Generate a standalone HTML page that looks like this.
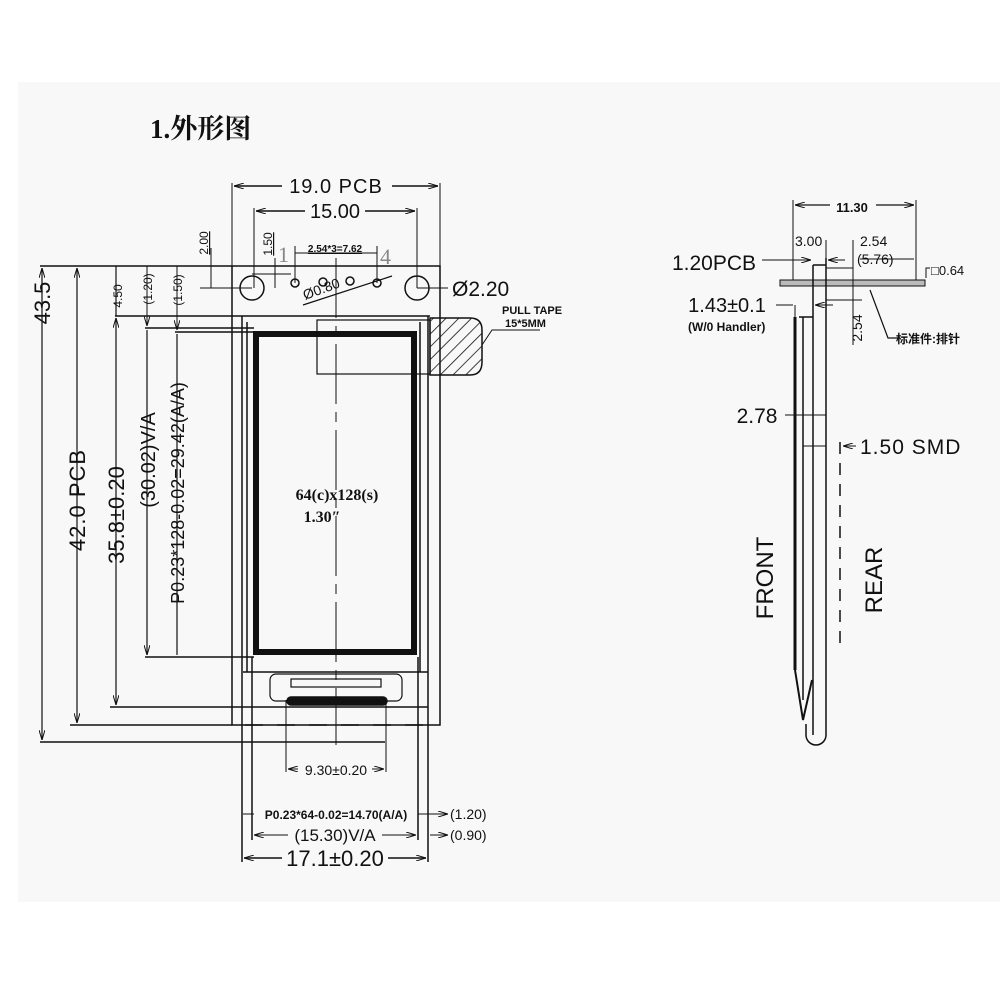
<!DOCTYPE html>
<html><head><meta charset="utf-8"><style>
html,body{margin:0;padding:0;background:#fff}
svg{display:block}
text{font-family:"Liberation Sans","Noto Sans CJK SC",sans-serif;fill:#111}
.s{font-family:"Liberation Serif","Noto Serif CJK SC",serif;font-weight:bold}
</style></head><body>
<svg width="1000" height="1000" viewBox="0 0 1000 1000" xmlns="http://www.w3.org/2000/svg">
<defs>
<marker id="a" viewBox="0 0 10 6" refX="10" refY="3" markerWidth="10" markerHeight="6" orient="auto-start-reverse" markerUnits="userSpaceOnUse"><path d="M0,0 L10,3 L0,6" fill="none" stroke="#111" stroke-width="1"/></marker>
<pattern id="h" width="9" height="9" patternUnits="userSpaceOnUse" patternTransform="rotate(45)"><line x1="0" y1="0" x2="0" y2="9" stroke="#111" stroke-width="1.6"/></pattern>
</defs>
<rect x="18" y="82" width="982" height="820" fill="#f8f8f8"/>
<text x="150" y="138" class="s" font-size="27">1.外形图</text>
<g stroke="#111" stroke-width="1.5" fill="none">
<rect x="232" y="266" width="208" height="459"/>
<line x1="40" y1="266" x2="232" y2="266"/>
<line x1="70" y1="725" x2="232" y2="725"/>
<line x1="40" y1="742" x2="385" y2="742"/>
<line x1="110" y1="707" x2="428" y2="707"/>
<line x1="145" y1="657" x2="254" y2="657"/>
<line x1="115" y1="316" x2="430" y2="316"/>
<line x1="145" y1="328" x2="254" y2="328"/>
<line x1="175" y1="332" x2="254" y2="332"/>
<line x1="242" y1="316" x2="242" y2="862"/>
<line x1="247" y1="322" x2="247" y2="672"/>
<line x1="428" y1="316" x2="428" y2="862"/>
<line x1="420" y1="322" x2="420" y2="672"/>
<line x1="243" y1="672" x2="428" y2="672"/>
<line x1="252" y1="657" x2="252" y2="840"/>
<line x1="418" y1="657" x2="418" y2="840"/>
<rect x="256" y="334" width="158" height="318" stroke-width="6"/>
<circle cx="252" cy="288" r="12"/><circle cx="417" cy="288" r="12"/>
<circle cx="295" cy="283" r="4"/><circle cx="323" cy="282" r="4"/><circle cx="350" cy="281" r="4"/><circle cx="377" cy="283" r="4"/>
<line x1="200" y1="288" x2="252" y2="288" stroke-width="1"/>
<line x1="252" y1="274" x2="291" y2="274" stroke-width="1"/>
<line x1="417" y1="288" x2="448" y2="288" stroke-width="1"/>
<line x1="303" y1="305" x2="392" y2="276" stroke-width="1.2"/>
<line x1="232" y1="183" x2="232" y2="266" stroke-width="1"/><line x1="440" y1="183" x2="440" y2="266" stroke-width="1"/>
<line x1="234" y1="186" x2="282" y2="186" marker-start="url(#a)"/><line x1="392" y1="186" x2="438" y2="186" marker-end="url(#a)"/>
<line x1="254" y1="208" x2="254" y2="288" stroke-width="1"/><line x1="417" y1="208" x2="417" y2="288" stroke-width="1"/>
<line x1="256" y1="211" x2="305" y2="211" marker-start="url(#a)"/><line x1="365" y1="211" x2="415" y2="211" marker-end="url(#a)"/>
<line x1="295" y1="246" x2="295" y2="283" stroke-width="1"/><line x1="377" y1="246" x2="377" y2="283" stroke-width="1"/>
<line x1="295" y1="253" x2="377" y2="253" stroke-width="1"/>
<line x1="211" y1="248" x2="211" y2="288" stroke-width="1"/>
<line x1="275" y1="258" x2="275" y2="288" stroke-width="1"/>
<line x1="336" y1="258" x2="336" y2="745" stroke-width="1" stroke-dasharray="60 8 10 8"/>
<rect x="317" y="320" width="113" height="54" stroke-width="1.2"/>
<path d="M430,318 H470 Q482,318 482,330 V362 Q482,375 470,375 H430 Z" fill="url(#h)"/>
<polyline points="482,345 492,330 540,330" stroke-width="1"/>
<rect x="270" y="674" width="132" height="27" rx="6" stroke-width="1.2"/>
<rect x="291" y="679" width="90" height="8" stroke-width="1.2"/>
<rect x="287" y="697" width="100" height="8" rx="4" fill="#111"/>
<line x1="286" y1="700" x2="286" y2="772" stroke-width="1"/><line x1="386" y1="700" x2="386" y2="772" stroke-width="1"/>
<line x1="245" y1="725" x2="428" y2="725" stroke-dasharray="18 14" stroke-width="1.5"/>
<line x1="288" y1="769" x2="298" y2="769" marker-start="url(#a)" stroke-width="1"/><line x1="372" y1="769" x2="384" y2="769" marker-end="url(#a)" stroke-width="1"/>
<line x1="243" y1="814" x2="254" y2="814" stroke-width="1"/><line x1="418" y1="814" x2="448" y2="814" stroke-width="1" marker-end="url(#a)"/>
<line x1="254" y1="835" x2="288" y2="835" marker-start="url(#a)" stroke-width="1"/><line x1="382" y1="835" x2="416" y2="835" marker-end="url(#a)" stroke-width="1"/>
<line x1="430" y1="835" x2="448" y2="835" stroke-width="1" marker-end="url(#a)"/>
<line x1="244" y1="858" x2="282" y2="858" marker-start="url(#a)"/><line x1="388" y1="858" x2="426" y2="858" marker-end="url(#a)"/>
<line x1="42" y1="268" x2="42" y2="740" marker-start="url(#a)" marker-end="url(#a)" stroke-width="1.2"/>
<line x1="77" y1="268" x2="77" y2="723" marker-start="url(#a)" marker-end="url(#a)" stroke-width="1.2"/>
<line x1="116" y1="318" x2="116" y2="705" marker-start="url(#a)" marker-end="url(#a)" stroke-width="1.2"/>
<line x1="116" y1="266" x2="116" y2="316" stroke-width="1.2"/>
<line x1="147" y1="330" x2="147" y2="655" marker-end="url(#a)" stroke-width="1.2"/>
<line x1="147" y1="266" x2="147" y2="326" marker-end="url(#a)" stroke-width="1"/>
<line x1="177" y1="266" x2="177" y2="330" marker-end="url(#a)" stroke-width="1"/>
<line x1="177" y1="334" x2="177" y2="655" stroke-width="1.2"/>
<line x1="793" y1="200" x2="793" y2="283" stroke-width="1"/><line x1="916" y1="200" x2="916" y2="283" stroke-width="1"/>
<line x1="795" y1="205" x2="830" y2="205" marker-start="url(#a)" stroke-width="1.2"/><line x1="876" y1="205" x2="914" y2="205" marker-end="url(#a)" stroke-width="1.2"/>
<rect x="780" y="280" width="145" height="6" fill="#bbb" stroke-width="1"/>
<line x1="813" y1="265" x2="813" y2="735"/><line x1="826" y1="258" x2="826" y2="735"/>
<line x1="813" y1="265" x2="826" y2="265"/>
<rect x="826" y="268" width="27" height="32" stroke-width="1"/>
<line x1="853" y1="240" x2="853" y2="300" stroke-width="1"/>
<line x1="826" y1="240" x2="826" y2="258" stroke-width="1"/>
<line x1="762" y1="260" x2="811" y2="260" marker-end="url(#a)" stroke-width="1"/>
<line x1="828" y1="260" x2="845" y2="260" marker-start="url(#a)" stroke-width="1"/>
<line x1="860" y1="259" x2="914" y2="259" stroke-width="1"/>
<line x1="853" y1="300" x2="853" y2="345" stroke-width="1"/>
<line x1="835" y1="300" x2="862" y2="300" stroke-width="1"/>
<polyline points="870,290 888,338 898,338" stroke-width="1.2"/>
<polyline points="926,278 926,268 930,268" stroke-width="1"/>
<line x1="795" y1="317" x2="795" y2="670" stroke-width="3"/>
<line x1="803" y1="317" x2="803" y2="700"/><line x1="799" y1="317" x2="813" y2="317"/>
<line x1="795" y1="305" x2="795" y2="317" stroke-width="1"/>
<line x1="776" y1="305" x2="793" y2="305" stroke-width="1"/>
<line x1="815" y1="305" x2="833" y2="305" stroke-width="1" marker-start="url(#a)"/>
<line x1="785" y1="415" x2="826" y2="415" stroke-width="1"/>
<line x1="803" y1="446" x2="826" y2="446" stroke-width="1"/>
<line x1="840" y1="442" x2="840" y2="650" stroke-dasharray="12 9"/>
<line x1="843" y1="446" x2="856" y2="446" marker-start="url(#a)" stroke-width="1"/>
<path d="M795,670 L803,720 L812,680" stroke-width="2"/>
<path d="M806,724 L806,735 A10,10 0 0 0 826,735"/>
</g>
<g font-size="20">
<text x="336" y="193" text-anchor="middle" letter-spacing="1">19.0 PCB</text>
<text x="335" y="218" text-anchor="middle">15.00</text>
<text x="452" y="296" font-size="21">Ø2.20</text>
<text x="714" y="270" font-size="21" text-anchor="middle">1.20PCB</text>
<text x="727" y="312" font-size="20" text-anchor="middle">1.43±0.1</text>
<text x="757" y="423" font-size="21" text-anchor="middle">2.78</text>
<text x="860" y="454" font-size="21" letter-spacing="1">1.50 SMD</text>
<text x="335" y="841" font-size="17" text-anchor="middle">(15.30)V/A</text>
<text x="335" y="866" font-size="22" text-anchor="middle">17.1±0.20</text>
</g>
<text x="336" y="775" font-size="14" text-anchor="middle">9.30±0.20</text>
<text x="336" y="819" font-size="12" font-weight="bold" text-anchor="middle">P0.23*64-0.02=14.70(A/A)</text>
<text x="450" y="819" font-size="14">(1.20)</text>
<text x="450" y="840" font-size="14">(0.90)</text>
<text x="335" y="252" font-size="10" font-weight="bold" text-anchor="middle" text-decoration="underline">2.54*3=7.62</text>
<text x="278" y="262" font-size="22" class="s" style="fill:#888;font-weight:normal">1</text>
<text x="380" y="264" font-size="22" class="s" style="fill:#888;font-weight:normal">4</text>
<text x="305" y="300" font-size="14" transform="rotate(-20 305 300)">Ø0.80</text>
<text x="502" y="314" font-size="11" font-weight="bold">PULL TAPE</text>
<text x="505" y="327" font-size="11" font-weight="bold">15*5MM</text>
<text x="337" y="500" class="s" font-size="16" text-anchor="middle">64(c)x128(s)</text>
<text x="322" y="522" class="s" font-size="16" text-anchor="middle">1.30″</text>
<text x="852" y="212" font-size="13" font-weight="bold" text-anchor="middle">11.30</text>
<text x="795" y="246" font-size="14">3.00</text>
<text x="860" y="246" font-size="14">2.54</text>
<text x="857" y="264" font-size="14">(5.76)</text>
<text x="931" y="275" font-size="13">□0.64</text>
<text x="688" y="331" font-size="12" font-weight="bold">(W/0 Handler)</text>
<text x="896" y="343" font-size="12" font-weight="bold">标准件:排针</text>
<g font-size="22">
<text transform="translate(50,303) rotate(-90)" text-anchor="middle">43.5</text>
<text transform="translate(85,500) rotate(-90)" text-anchor="middle" letter-spacing="1">42.0 PCB</text>
<text transform="translate(124,515) rotate(-90)" text-anchor="middle">35.8±0.20</text>
<text transform="translate(155,460) rotate(-90)" text-anchor="middle" font-size="20">(30.02)V/A</text>
<text transform="translate(184,493) rotate(-90)" text-anchor="middle" font-size="18">P0.23*128-0.02=29.42(A/A)</text>
<text transform="translate(773,578) rotate(-90)" text-anchor="middle" font-size="24">FRONT</text>
<text transform="translate(882,580) rotate(-90)" text-anchor="middle" font-size="24">REAR</text>
</g>
<g font-size="12">
<text transform="translate(122,296) rotate(-90)" text-anchor="middle">4.50</text>
<text transform="translate(152,289) rotate(-90)" text-anchor="middle">(1.20)</text>
<text transform="translate(182,290) rotate(-90)" text-anchor="middle">(1.50)</text>
<text transform="translate(208,243) rotate(-90)" text-anchor="middle" text-decoration="underline">2.00</text>
<text transform="translate(272,244) rotate(-90)" text-anchor="middle" text-decoration="underline">1.50</text>
<text transform="translate(862,328) rotate(-90)" text-anchor="middle" font-size="14">2.54</text>
</g>
</svg>
</body></html>
